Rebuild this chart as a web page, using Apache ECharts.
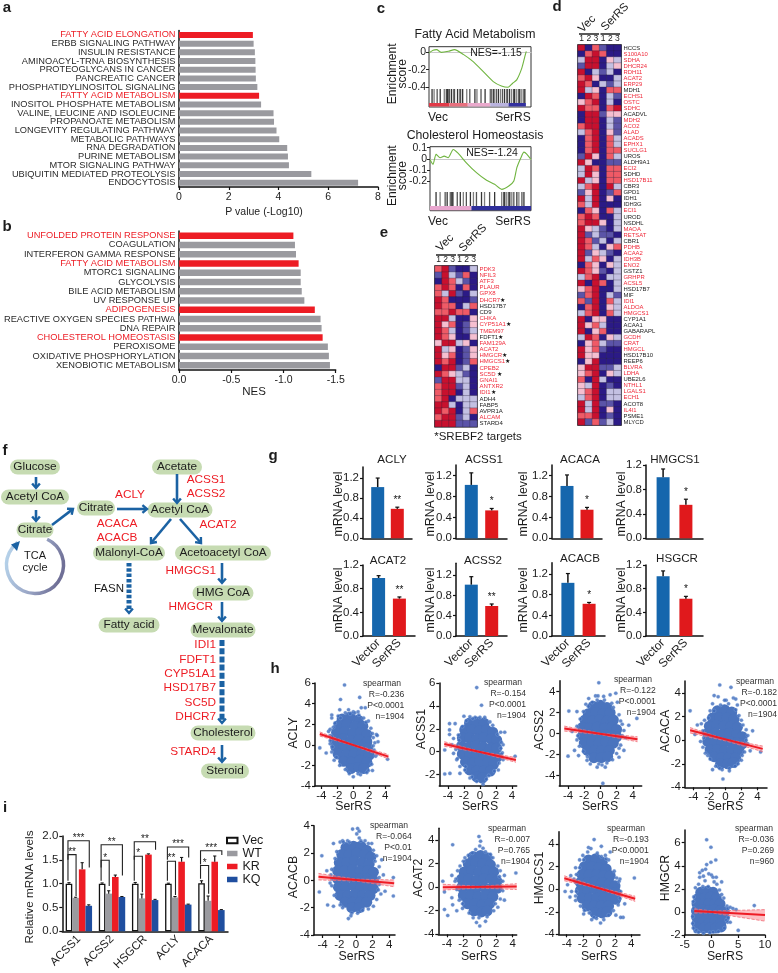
<!DOCTYPE html>
<html><head><meta charset="utf-8">
<script src="https://cdn.jsdelivr.net/npm/echarts@6/dist/echarts.min.js"></script>
<style>html,body{margin:0;padding:0;background:#fff}#c{width:778px;height:973px}</style>
</head><body><div id="c"></div>
<script>
// ---------- panel a ----------
const aCats=['FATTY ACID ELONGATION','ERBB SIGNALING PATHWAY','INSULIN RESISTANCE','AMINOACYL-TRNA BIOSYNTHESIS','PROTEOGLYCANS IN CANCER','PANCREATIC CANCER','PHOSPHATIDYLINOSITOL SIGNALING','FATTY ACID METABOLISM','INOSITOL PHOSPHATE METABOLISM','VALINE, LEUCINE AND ISOLEUCINE','PROPANOATE METABOLISM','LONGEVITY REGULATING PATHWAY','METABOLIC PATHWAYS','RNA DEGRADATION','PURINE METABOLISM','MTOR SIGNALING PATHWAY','UBIQUITIN MEDIATED PROTEOLYSIS','ENDOCYTOSIS'];
const aVals=[2.97,3.0,3.05,3.07,3.08,3.09,3.15,3.22,3.3,3.8,3.82,3.92,4.03,4.35,4.38,4.42,5.32,7.2];
const aRed=['FATTY ACID ELONGATION','FATTY ACID METABOLISM'];
// ---------- panel b ----------
const bCats=['UNFOLDED PROTEIN RESPONSE','COAGULATION','INTERFERON GAMMA RESPONSE','FATTY ACID METABOLISM','MTORC1 SIGNALING','GLYCOLYSIS','BILE ACID METABOLISM','UV RESPONSE UP','ADIPOGENESIS','REACTIVE OXYGEN SPECIES PATHWA','DNA REPAIR','CHOLESTEROL HOMEOSTASIS','PEROXISOME','OXIDATIVE PHOSPHORYLATION','XENOBIOTIC METABOLISM'];
const bVals=[-1.095,-1.11,-1.12,-1.145,-1.165,-1.165,-1.175,-1.2,-1.30,-1.355,-1.365,-1.375,-1.425,-1.435,-1.445];
const bRed=['UNFOLDED PROTEIN RESPONSE','FATTY ACID METABOLISM','ADIPOGENESIS','CHOLESTEROL HOMEOSTASIS'];
// ---------- panel c ----------
const c1Rank=[0,4,7.5,12,19,25,34,43,53,63,71,77.5,82,86,91,94,95.4];
const c1Score=[-0.01,0.02,0.027,-0.004,0.008,0.027,-0.03,-0.107,-0.22,-0.335,-0.385,-0.40,-0.354,-0.316,-0.183,-0.05,0.008];
const c1Rug=[3,5,8,11,15,17,18,19,20,22,24,25,28,30,31,33,37,40,45,47,51,55,60,61,63,64,66,68,70,72,74,76,77,79,81,83,84,86,88,89,91,93,94];
const c1Band=[[0,20,'#e23a48'],[20,38,'#e8707e'],[38,60,'#eaa9cc'],[60,78,'#b9b3de'],[78,95,'#34319f']];
const c2Rank=[0,3,6,10,14,18,23,28,36,46,56,64,71,78,83,86,90,93,96,100];
const c2Score=[-0.006,-0.05,0.04,0.01,0.024,0.01,0.084,0.048,-0.036,-0.125,-0.194,-0.23,-0.275,-0.245,-0.2,-0.08,0.01,0.06,0.04,-0.006];
const c2Rug=[6,10,15,17,20,21,22,23,27,30,33,36,40,43,46,51,54,59,64,71,73,74,76,78,79,81,83,86,88,91,93];
const c2Band=[[0,41,'#e9a6cf'],[41,100,'#2f2f9b']];
// ---------- panel d ----------
const dGenes=['HCCS','S100A10','SDHA','DHCR24','RDH11','ACAT2','ERP29','MDH1','ECHS1','OSTC','SDHC','ACADVL','MDH2','ACO2','ALAD','ACADS','EPHX1','SUCLG1','UROS','ALDH9A1','ECI2','SDHD','HSD17B11','CBR3','GPD1','IDH1','IDH3G','ECI1','UROD','NSDHL','MAOA','RETSAT','CBR1','PDHB','ACAA2','IDH3B','ENO2','GSTZ1','GRHPR','ACSL5','HSD17B7','MIF','IDI1','ALDOA','HMGCS1','CYP1A1','ACAA1','GABARAPL','GCDH','CRAT','HMGCL','HSD17B10','REEP6','BLVRA','LDHA','UBE2L6','NTHL1','LGALS1','ECH1','ACOT8','IL4I1','PSME1','MLYCD'];
const dBlack=['HCCS','MDH1','ACADVL','UROS','ALDH9A1','SDHD','CBR3','GPD1','IDH1','IDH3G','UROD','NSDHL','CBR1','GSTZ1','HSD17B7','MIF','CYP1A1','ACAA1','GABARAPL','HSD17B10','REEP6','UBE2L6','ACOT8','PSME1','MLYCD'];
const dValues=[[3,-3,2,-2,-3,-3],[-3,2,3,2,-3,-3],[-1,3,3,-3,1,-1],[-2,3,3,-3,-1,1],[3,-3,-1,-2,-1,-3],[2,3,1,-3,-3,-1],[3,2,-3,-1,-2,-1],[3,-1,1,-3,2,2],[-3,3,2,-3,-1,-2],[1,2,3,-3,-1,-3],[3,2,2,-3,2,3],[-3,3,3,-2,1,1],[-3,3,3,-3,-1,-2],[2,3,3,-3,-1,-2],[-1,2,3,-3,1,-2],[-3,2,3,-3,2,-1],[-3,2,3,-3,2,-1],[-3,2,3,-3,2,2],[-2,3,1,-3,2,-1],[3,1,-3,-3,-2,-2],[-1,3,2,-3,2,2],[-1,3,1,-3,2,2],[3,-1,1,-3,2,2],[-1,2,3,-3,3,-1],[-2,1,3,-3,-2,2],[3,-1,3,-3,1,-3],[2,-1,3,-3,-3,-3],[-3,2,1,-3,2,-1],[2,3,2,-3,-3,-1],[2,3,3,1,-3,-1],[3,1,-1,-2,-3,-1],[3,-2,-1,-2,-2,-3],[3,2,-2,-1,-3,-1],[3,2,-1,-3,1,2],[3,-2,1,-1,-2,-3],[3,-1,2,1,-3,-1],[-3,2,1,-3,1,-1],[3,2,1,-2,-3,-1],[-1,2,3,-3,-1,-1],[3,-3,3,2,-3,-1],[1,2,3,-3,-3,-1],[-2,2,3,-3,-1,-2],[2,-2,3,-3,2,-1],[-3,2,3,-3,1,-1],[-1,2,3,-3,2,-1],[3,-3,1,1,-3,-3],[3,1,2,-1,-3,-3],[3,-3,1,2,-3,-3],[-1,3,2,-3,1,-1],[-3,1,2,-1,-2,-2],[3,1,2,-2,-3,-3],[3,1,1,-3,-3,-3],[-3,1,3,-3,-3,-3],[1,3,3,-2,-2,-1],[1,2,3,-3,1,-1],[2,-3,3,-1,-3,-3],[1,-1,3,-3,-2,-3],[1,2,3,-3,-1,-1],[-1,2,3,-3,-1,-1],[3,-1,3,-2,-2,-3],[3,-1,3,-3,1,-3],[2,2,3,-3,-2,-3],[3,-2,2,-2,-1,-3]];
// ---------- panel e ----------
const eGenes=['PDK3','NFIL3','ATF3','PLAUR','GPX8','DHCR7★','HSD17B7','CD9','CHKA','CYP51A1★','TMEM97','FDFT1★','FAM129A','ACAT2','HMGCR★','HMGCS1★','CPEB2','SC5D ★','GNAI1','ANTXR2','IDI1★','ADH4','FABP5','AVPR1A','ALCAM','STARD4'];
const eBlack=['HSD17B7','CD9','FDFT1★','ADH4','FABP5','AVPR1A','STARD4'];
const eValues=[[2,3,-2,-3,-3,-1],[-2,3,-1,-2,2,-3],[-3,3,2,-1,-2,-3],[2,3,2,-3,2,-3],[2,-1,3,-2,-3,-1],[3,2,-3,-3,-3,-2],[3,2,2,-3,-1,2],[2,2,3,2,2,-3],[3,3,-1,-3,-3,1],[3,1,2,-3,-2,1],[3,2,-1,-3,-2,-1],[3,2,1,-3,-3,1],[1,3,3,-1,1,-3],[3,-1,1,-3,-2,1],[3,1,2,-3,-2,1],[3,2,3,-3,-2,2],[-3,3,3,-2,-1,-3],[3,2,1,-1,-2,-3],[-2,3,3,-1,-1,-3],[2,3,3,-2,-1,-3],[2,3,3,-3,-1,-3],[2,3,-3,-1,-1,-1],[3,3,-1,-3,-1,-1],[3,2,3,-3,-1,2],[2,3,3,-2,-1,-3],[3,3,3,-2,-2,-2]];
const heatColumns=['1','2','3','1','2','3'];
// ---------- panel g ----------
const gNames=['ACLY','ACSS1','ACACA','HMGCS1','ACAT2','ACSS2','ACACB','HSGCR'];
const gVector=[1.02,1.02,1.0,1.0,.98,1.01,1.03,1.01];
const gVectorTop=[1.2,1.25,1.21,1.135,1.02,1.167,1.21,1.10];
const gSerRS=[.587,.533,.546,.548,.632,.59,.624,.63];
const gSerRSTop=[.62,.57,.59,.64,.66,.63,.65,.67];
const gStars=['**','*','*','*','**','**','*','*'];
const gTicks=[0,.4,.8,1.2];
const gCats=['','Vector','','SerRS',''];
// ---------- panel h ----------
const hGenes=['ACLY','ACSS1','ACSS2','ACACA','ACACB','ACAT2','HMGCS1','HMGCR'];
const hR=['R=-0.236','R=-0.154','R=-0.122','R=-0.182','R=-0.064','R=-0.007','R=-0.193','R=-0.036'];
const hP=['P<0.0001','P<0.0001','P<0.0001','P<0.0001','P<0.01','P=0.765','P<0.0001','P=0.269'];
const hN=['n=1904','n=1904','n=1904','n=1904','n=1904','n=1904','n=1904','n=960'];
const coreACLY=[[-1.4,2.5],[-.4,2.7],[.6,2.4],[-1.8,1.9],[-.8,2],[.2,1.8],[1.2,1.8],[-2.1,1.2],[-1.1,1.3],[-.1,1.1],[.9,1.2],[1.7,1],[-2.3,.5],[-1.3,.6],[-.3,.4],[.7,.5],[1.7,.3],[-2.2,-.2],[-1.2,-.1],[-.2,-.3],[.8,-.2],[1.8,-.3],[-1.9,-.9],[-.9,-1],[.1,-.9],[1.1,-.8],[2,-1],[-1.2,-1.6],[-.2,-1.7],[.8,-1.5],[1.7,-1.7],[-.3,-2.3],[.7,-2.2],[1.3,-2.3]];
const dotsACLY=[[-1.1,5.8],[.8,4.6],[-1.6,4.4],[-2.7,2.9],[-2.7,2.6],[-1.7,3.4],[-.6,3.4],[0,3.2],[.6,3.2],[1,3.6],[1.5,3.6],[-4.2,-.3],[-3.4,-.8],[-3.1,1.3],[-2.9,1.5],[-2.9,.9],[-2.9,.4],[-2.5,1.7],[-2.9,.1],[-2.7,-.7],[-2.4,-1.5],[-1.9,2.8],[-1,3.1],[.2,3.1],[1.3,2.6],[1.9,2.3],[2.2,1.6],[2.5,.7],[2.7,.2],[2.9,1],[3,.9],[3.1,.3],[2.6,-.5],[2.8,-1.1],[2.3,-1.9],[3,-.9],[4.3,-1.4],[2.4,-2.5],[1.9,-2.5],[1.7,-2.7],[.6,-2.8],[0,-3.1],[-.5,-2.8],[-1,-2.4],[.9,-2.9],[-1.7,-2],[-2.1,-1.2],[-2.6,-.2],[-2.7,.8],[2.5,-.1],[2.4,1.1],[1.6,2.2],[.7,2.9],[-.4,3],[-1.6,2.6],[-2.3,2.1]];
const fitACLY=[[-4.2,1.05],[4.4,-1.15]];
const ciACLY=[[-4.2,.85,1.25],[0,-.08,.04],[4.4,-1.37,-.93]];
const coreACSS1=[[-1.3,2.5],[-.4,2.6],[.5,2.5],[-1.9,1.9],[-1,1.9],[-.1,1.8],[.8,1.9],[1.6,1.7],[-2.2,1.2],[-1.3,1.2],[-.4,1.1],[.5,1.2],[1.4,1.1],[2.1,1],[-2.3,.5],[-1.4,.4],[-.5,.5],[.4,.4],[1.3,.3],[2.1,.3],[-2.2,-.2],[-1.3,-.2],[-.4,-.3],[.5,-.3],[1.4,-.4],[2.1,-.5],[-1.8,-.9],[-.9,-1],[0,-.9],[.9,-1],[1.7,-1.1],[-1.3,-1.6],[-.4,-1.7],[.5,-1.7],[1.3,-1.7],[-.4,-2.2],[.3,-2.3]];
const dotsACSS1=[[-.4,5.6],[.2,4.05],[-3.8,2.45],[-3.1,2.45],[-2,3.1],[-1.25,3.05],[-.6,3],[.6,3],[1.25,2.6],[3.1,1.7],[2.6,1.7],[-3.8,1.9],[-3.8,1.5],[-2.7,1.45],[-3.3,1.15],[-4.4,.15],[-3.5,.6],[-3,.2],[-4.4,-1.95],[-3.75,-1.9],[-2.5,-1.9],[-2.5,-1.3],[-2.9,-.7],[-3.3,-.15],[4.4,-.4],[2.9,.6],[2.8,-.1],[2.9,-.7],[2.3,-1.6],[.8,-2.4],[.4,-2.85],[-.4,-2.6],[-1.25,-2.3],[-1.9,-1.6],[1.8,-1.7],[2.4,-1],[2.7,-.2],[2.7,.8],[-2.2,2.2],[-2.8,.5],[-2.8,-.6],[2.2,1.5],[-1.7,2.7],[-.9,2.9],[0,3],[1.6,2.3],[-2.6,1],[2.6,.3],[1.1,-2.1],[-1,-2.2],[-1.8,-1.3]];
const fitACSS1=[[-4.45,.67],[4.5,-.72]];
const ciACSS1=[[-4.45,.47,.87],[0,-.09,.03],[4.5,-.93,-.52]];
const coreACSS2=[[-.9,2.6],[0,2.7],[.8,2.5],[-1.5,1.9],[-.6,2],[.3,1.9],[1.2,2],[-1.9,1.3],[-1,1.2],[-.1,1.3],[.8,1.2],[1.6,1.3],[-2.2,.6],[-1.3,.5],[-.4,.6],[.5,.5],[1.4,.6],[2,.4],[-2.2,-.2],[-1.3,-.1],[-.4,-.2],[.5,-.1],[1.4,-.2],[2,-.3],[-2,-.9],[-1.1,-.8],[-.2,-.9],[.7,-.8],[1.6,-.9],[-1.6,-1.6],[-.7,-1.6],[.2,-1.6],[1.1,-1.6],[-.8,-2.3],[.1,-2.3],[.9,-2.2]];
const dotsACSS2=[[-.2,4.85],[.3,-4.75],[-3.9,2.15],[-2.9,2.1],[-4,-2.15],[-3.2,-1.6],[-2.7,-2.1],[-1.65,-2.55],[-1.25,-2.9],[-.4,-3.2],[.6,-3.2],[-.2,-2.9],[.8,-2.8],[2.3,-2.25],[2.9,-1.6],[2.5,-1.1],[3.5,.8],[4.5,1.45],[1.9,3.85],[1.2,3.7],[.4,3.55],[-.6,3.6],[-1.45,3.35],[-.3,3.6],[1.4,2.9],[2.1,3],[-1.8,2.8],[-2.5,1.4],[-2.9,.7],[-2.8,-.2],[-3.5,.2],[-2.9,-.6],[-2.6,-1.2],[2.3,1.8],[2.7,.9],[2.7,-.2],[2.9,.3],[3.1,-.4],[2,-1.9],[1.5,-2.5],[.2,-3],[-1,3],[.5,3.2],[-.4,3.2],[1.6,2.5],[-1.5,2.6],[-2.1,2.1],[-2.1,-1.7],[-1.6,-2.2],[2.5,1.2],[2.3,-1.4]];
const fitACSS2=[[-4.46,.48],[4.58,-.54]];
const ciACSS2=[[-4.46,.24,.72],[0,-.1,.04],[4.58,-.78,-.3]];
const coreACACA=[[-1,2.5],[-.1,2.6],[.8,2.4],[-1.6,1.9],[-.7,1.9],[.2,1.9],[1.1,1.8],[-2,1.2],[-1.1,1.3],[-.2,1.2],[.7,1.2],[1.5,1.1],[-2.2,.6],[-1.3,.6],[-.4,.5],[.5,.6],[1.4,.5],[2.1,.3],[-2.2,-.1],[-1.3,-.1],[-.4,-.2],[.5,-.1],[1.4,-.2],[2.1,-.3],[-1.9,-.8],[-1,-.8],[-.1,-.9],[.8,-.8],[1.7,-.9],[-1.4,-1.4],[-.5,-1.5],[.4,-1.5],[1.3,-1.5],[-.6,-2],[.3,-2],[1,-1.9]];
const dotsACACA=[[-.7,4.7],[.7,4.5],[-4.4,2.5],[-1.4,3.8],[-.9,3.7],[.1,3.4],[-.1,3.4],[1,3.6],[1.3,3.5],[1.5,3],[-1.6,3.1],[-1.9,2.5],[-.6,3],[.4,3.1],[1.3,2.6],[-3.5,1.3],[-3,1.4],[-2.6,1.7],[-2.8,.8],[-3.8,.5],[-3.1,-.1],[-2.8,-.6],[-2.5,-1.1],[-1.9,-1.6],[3.4,.8],[2.8,.4],[2.6,.9],[2.2,1.3],[2.8,-.3],[3.1,-.9],[2.4,-1],[4.4,-1],[2,-1.7],[1.6,-2],[1.2,-2.2],[.5,-2.4],[.5,-2.6],[-.7,-2.4],[-1.2,-2.2],[-1.6,-2.5],[-.4,-2.5],[-.3,-3.3],[-2.1,1.9],[-1.4,2.5],[1.7,2.1],[2,1.7],[-2.7,.2],[2.6,0],[-2.2,-1.3],[2.1,-1.3]];
const fitACACA=[[-4.4,.85],[4.66,-.73]];
const ciACACA=[[-4.4,.62,1.08],[0,-.05,.1],[4.66,-.97,-.49]];
const coreACACB=[[-1.2,2.4],[-.3,2.5],[.6,2.5],[1.3,2.2],[-1.7,1.9],[-.8,1.9],[.1,2],[1,1.9],[1.8,1.7],[-2,1.3],[-1.1,1.3],[-.2,1.4],[.7,1.3],[1.6,1.2],[-2.2,.7],[-1.3,.7],[-.4,.8],[.5,.7],[1.4,.7],[2.1,.6],[-2.2,.1],[-1.3,.1],[-.4,.2],[.5,.1],[1.4,.1],[2.1,0],[-2.1,-.5],[-1.2,-.5],[-.3,-.4],[.6,-.5],[1.5,-.5],[2.1,-.6],[-1.9,-1.1],[-1,-1.1],[-.1,-1],[.8,-1.1],[1.7,-1.1],[-1.3,-1.6],[-.4,-1.6],[.5,-1.6],[1.3,-1.6],[-.5,-2],[.4,-2]];
const dotsACACB=[[-.4,3.75],[.2,3.8],[.4,3.6],[.1,3.4],[.4,3.1],[-4.1,1.8],[-2.7,2.7],[-1.9,2.8],[-1.6,2.9],[-1.5,2.8],[-1,2.9],[1.1,2.9],[1.9,2.7],[1.5,2.7],[2.1,2.2],[2.5,1.8],[3.1,1.5],[4.5,.2],[2.8,1],[2.8,.2],[3.3,.4],[-2.5,1.6],[-2.9,.8],[-2.9,.1],[-3.5,.7],[-3,.4],[-3.1,-.2],[-2.9,-.4],[-4.4,-.85],[-3.4,-1.8],[-2.7,-1.9],[-2.6,-1.1],[-1.9,-1.8],[2.7,-.7],[2.8,-.3],[3.5,-.8],[3,-1],[4.5,-1.15],[2.1,-1.9],[1.5,-2.1],[-.5,-2.4],[.2,-2.4],[-.6,-2.6],[-.9,-2.8],[.8,-2.2],[-2.3,2.1],[2.3,1.4],[-1.6,-2],[-.8,2.8],[.6,2.9],[2.5,-1.4]];
const fitACACB=[[-4.5,.27],[4.6,-.22]];
const ciACACB=[[-4.5,.03,.51],[0,-.05,.09],[4.6,-.47,.03]];
const coreACAT2=[[-.8,2.6],[.1,2.7],[.9,2.5],[-1.4,2],[-.5,2.1],[.4,2],[1.3,1.9],[-1.9,1.3],[-1,1.4],[-.1,1.3],[.8,1.4],[1.7,1.3],[-2.2,.7],[-1.3,.7],[-.4,.6],[.5,.7],[1.4,.7],[2.1,.5],[-2.2,0],[-1.3,0],[-.4,-.1],[.5,0],[1.4,-.1],[2.1,-.1],[-2,-.7],[-1.1,-.7],[-.2,-.8],[.7,-.7],[1.6,-.8],[-1.5,-1.4],[-.6,-1.4],[.3,-1.5],[1.2,-1.4],[-.7,-2],[.2,-2.1],[.9,-2]];
const dotsACAT2=[[-.1,4.3],[-3.3,3.6],[.1,3.9],[-.5,3.2],[0,3.5],[.4,3.3],[.7,3],[-.9,2.9],[1.3,2.8],[1.6,2.5],[-1.4,2.7],[-2,2.2],[2.2,1.8],[2.5,1.4],[-4.5,.5],[-2.7,1.4],[-2.9,.7],[-3.4,1],[-3,.5],[-2.8,-.2],[-4.3,-.4],[-3.4,-.9],[-4.3,-1.9],[-3.9,-2.4],[-3.3,-1.5],[-2.8,-2],[-2.5,-1.1],[-2.1,-1.8],[4.4,1.2],[3,1],[2.8,.5],[2.8,-.3],[2.5,-1],[3,-1.1],[2.2,-1.7],[1.7,-2],[.9,-2.5],[.7,-2.9],[-.1,-2.6],[-.4,-3],[0,-3.3],[-.8,-2.6],[-1.3,-2.2],[-2.4,1.8],[2.4,.9],[-2.1,-1.4],[1.9,-1.4],[-1.8,2.5]];
const fitACAT2=[[-4.5,0],[4.5,.05]];
const ciACAT2=[[-4.5,-.25,.25],[0,-.07,.07],[4.5,-.2,.3]];
const coreHMGCS1=[[-1.3,2.6],[-.4,2.7],[.4,2.4],[-1.8,2],[-.9,2],[0,1.9],[.9,1.8],[-2.1,1.3],[-1.2,1.3],[-.3,1.3],[.6,1.2],[1.4,1.2],[-2.3,.6],[-1.4,.6],[-.5,.7],[.4,.6],[1.3,.5],[2,.3],[-2.3,-.1],[-1.4,-.1],[-.5,0],[.4,-.1],[1.3,-.2],[2.1,-.3],[-2.1,-.8],[-1.2,-.8],[-.3,-.8],[.6,-.8],[1.5,-.8],[2.1,-.9],[-1.5,-1.5],[-.6,-1.5],[.3,-1.5],[1.2,-1.5],[-.5,-2.1],[.4,-2.1],[1,-2]];
const dotsHMGCS1=[[-.6,4.4],[-1.3,3.7],[-1,3.6],[-1.4,3.3],[.3,3.8],[-.2,3.2],[.8,3],[1.4,3.3],[1.2,2.6],[.9,2.7],[-2,3],[-1.9,2.6],[-2.4,2.6],[-2.9,1.9],[-3.5,1.2],[-3.1,.9],[-2.8,1.3],[-2.9,.6],[-3.9,.4],[-3.4,-.2],[-4.2,-.2],[-3.6,-.7],[-2.9,-.6],[-2.8,-.2],[-2.9,-1],[-2.3,-1.5],[-1.8,-1.9],[-1.9,-2.2],[4.4,1],[2.6,.9],[2.5,.7],[2.7,-.2],[2.6,-.8],[3.2,-1.3],[2.4,-1.4],[1.8,-1.9],[2.1,-2.3],[3,-2.5],[2.7,-2.5],[1.2,-2.3],[-.6,-2.5],[-.9,-2.7],[.2,-3],[-.3,-2.6],[.6,-2.7],[-2.4,1.9],[1.9,1.6],[2.2,1],[-1.2,-2.1],[.3,2.9]];
const fitHMGCS1=[[-4.3,.97],[4.5,-.85]];
const ciHMGCS1=[[-4.3,.75,1.19],[0,.03,.17],[4.5,-1.08,-.62]];
const coreHMGCR=[[-2,1.7],[-.8,1.8],[.3,1.7],[-2.4,1.2],[-1.3,1.2],[-.2,1.3],[.9,1.2],[-2.7,.7],[-1.6,.7],[-.5,.7],[.6,.7],[1.6,.7],[-2.8,.1],[-1.7,.2],[-.6,.1],[.5,.2],[1.6,.1],[2.4,0],[-2.8,-.4],[-1.7,-.4],[-.6,-.4],[.5,-.4],[1.6,-.5],[2.4,-.5],[-2.7,-1],[-1.6,-.9],[-.5,-1],[.6,-.9],[1.7,-1],[-2.5,-1.4],[-1.4,-1.4],[-.3,-1.4],[.8,-1.4],[1.8,-1.3]];
const dotsHMGCR=[[-.9,6.25],[-.1,5.6],[-.9,4.1],[.8,4.5],[-.1,4.3],[-2.2,3.4],[-2.2,3],[-1.7,3.6],[-1.5,3.1],[-1.1,3.7],[-1.2,2.7],[-.5,3.3],[0,3.2],[.3,3],[.9,3],[.5,2.6],[1,2.4],[1.9,2.6],[-3,2.1],[-2.4,2.4],[-3.3,1.3],[-3.4,.9],[-3.5,-.4],[-3.5,-1],[-3.4,-1.4],[-3,-1.7],[-2.8,-1.6],[-2.4,-1.75],[-1.5,-1.85],[-.3,-1.8],[.3,-1.75],[1.3,-1.7],[2.4,-1.4],[2.8,-.7],[3.1,-.5],[3,-.9],[3.5,-.9],[2.9,.5],[3.1,.3],[3.5,.4],[4,.3],[4.6,.2],[8,.55],[5,-1.6],[2.3,1.2],[1.9,1.5],[-1.6,2.2],[-.6,2.2],[1.5,1.9],[-3.3,.3]];
const fitHMGCR=[[-3.2,.09],[10,-.26]];
const ciHMGCR=[[-3.2,-.1,.28],[0,-.08,.08],[10,-.8,.2]];
// ---------- panel i ----------
const iCats=['ACSS1','ACSS2','HSGCR','ACLY','ACACA'];
const iVec=[1.0,1.0,1.0,1.0,1.01];
const iWT=[.70,.79,.69,.71,.64];
const iKR=[1.30,1.14,1.61,1.46,1.46];
const iKQ=[.535,.72,.655,.56,.445];
const iVecErr=[.02,.015,.025,.01,.05];
const iWTErr=[.015,.06,.09,.02,.1];
const iKRErr=[.14,.04,.015,.09,.12];
const iKQErr=[.02,.01,.015,.01,.01];
// category, barA, barB, top, bottom of leg A, bottom of leg B
const iBrackets=[[0,0,1,1.61,1.06,.74],[0,0,3,1.90,1.5,1.34],[1,0,1,1.49,1.06,.95],[1,0,3,1.815,1.34,1.17],[2,0,1,1.575,1.06,.82],[2,0,3,1.88,1.5,1.71],[3,0,1,1.47,1.06,.76],[3,0,3,1.77,1.5,1.55],[4,0,1,1.38,1.1,.79],[4,0,3,1.69,1.4,1.6]];
const iBracketStars=['**','***','*','**','*','**','**','***','*','***'];

const FONT='"Liberation Sans", Arial, sans-serif';
const INK='#1c1c1c', RED='#ed1c24', GREY='#9a9a9f', BLUE='#1566ad', ARROW='#1b62a3', NODE='#c6dbb2';
const grids=[],xAxes=[],yAxes=[],series=[],graphic=[];
function addGrid(x0,y0,x1,y1,xa,ya,extra){const i=grids.length;grids.push(Object.assign({left:x0,top:y0,width:x1-x0,height:y1-y0,containLabel:false},extra||{}));xa.gridIndex=i;ya.gridIndex=i;xAxes.push(xa);yAxes.push(ya);return i;}
function T(x,y,text,o){o=o||{};graphic.push({type:'text',x,y,rotation:(o.rot||0)*Math.PI/180,z:50,style:{text,font:(o.bold?'bold ':'')+(o.size||12)+'px '+FONT,fill:o.color||INK,align:o.align||'center',verticalAlign:'middle'}});}
const HIDE={show:false};
function axisBase(o){return Object.assign({axisLine:{show:true,onZero:false,lineStyle:{color:'#111',width:1.5}},axisTick:{show:true,length:3,lineStyle:{color:'#111',width:1.2}},splitLine:HIDE,axisLabel:{color:INK,fontFamily:FONT,fontSize:11}},o);}

[['a',7,8],['b',7,227],['c',381,9],['d',557,7],['e',384,233],['f',5,451],['g',273,456],['h',275,669],['i',5,808]].forEach(p=>T(p[1],p[2],p[0],{bold:true,size:15}));

// ---------- a, b ----------
function rankedBars(cats,vals,reds,box,xa,bw,fs){
 const g=addGrid(box[0],box[1],box[2],box[3],xa,axisBase({type:'category',inverse:true,data:cats,axisTick:HIDE,axisLabel:{interval:0,fontFamily:FONT,fontSize:fs,margin:3.5,color:(v)=>reds.includes(v)?RED:'#2a2a2a'}}));
 series.push({type:'bar',xAxisIndex:g,yAxisIndex:g,barWidth:bw,silent:true,data:vals,itemStyle:{color:(p)=>reds.includes(cats[p.dataIndex])?RED:GREY}});
}
rankedBars(aCats,aVals,aRed,[179,30.6,378,187],axisBase({type:'value',min:0,max:8,interval:2,axisLabel:{color:INK,fontFamily:FONT,fontSize:10.5,margin:5}}),6,9.25);
T(264,212,'P value (-Log10)',{size:10.5});
rankedBars(bCats,bVals,bRed,[179,231,335.7,370],axisBase({type:'value',inverse:true,min:-1.5,max:0,interval:.5,axisLabel:{color:INK,fontFamily:FONT,fontSize:10.5,margin:5,formatter:v=>v.toFixed(1)}}),6.5,9.25);
T(254,392,'NES',{size:11.5});

// ---------- c ----------
const rectS=(g,rows)=>({type:'custom',xAxisIndex:g,yAxisIndex:g,silent:true,data:rows.map(r=>[r[0],r[1]]),encode:{x:[0,1],y:[]},
 renderItem(p,api){const a=api.coord([rows[p.dataIndex][0],0]),b=api.coord([rows[p.dataIndex][1],1]);return{type:'rect',shape:{x:a[0],y:b[1],width:b[0]-a[0],height:a[1]-b[1]},style:{fill:rows[p.dataIndex][2]}};}});
function gsea(fr,split,band,yLo,yHi,yTop,yBot,rank,score,rug,title,titleY,nes,nesX,yInterval){
 const hid={type:'value',show:false,min:0,max:100,splitLine:HIDE};
 addGrid(fr[0],fr[1],fr[2],fr[3],Object.assign({},hid),{type:'value',show:false,min:0,max:1,splitLine:HIDE},{show:true,borderColor:'#333',borderWidth:1,backgroundColor:'#fff'});
 const gB=addGrid(fr[0],split[1],fr[2],fr[3]-.5,Object.assign({},hid),{type:'value',show:false,min:0,max:1,splitLine:HIDE});
 series.push(rectS(gB,band));
 const gR=addGrid(fr[0],split[0],fr[2],split[1],Object.assign({},hid),{type:'value',show:false,min:0,max:1,splitLine:HIDE});
 series.push({type:'custom',xAxisIndex:gR,yAxisIndex:gR,silent:true,data:rug.map(v=>[v]),encode:{x:0,y:[]},renderItem(p,api){const a=api.coord([api.value(0),0]),b=api.coord([api.value(0),1]);return{type:'line',shape:{x1:a[0],y1:a[1],x2:b[0],y2:b[1]},style:{stroke:'#2a2a2a',lineWidth:1.3,opacity:[.95,.6,.8][p.dataIndex%3]}};}});
 const gC=addGrid(fr[0],yTop,fr[2],yBot,{type:'value',min:0,max:100,axisLabel:HIDE,axisTick:HIDE,splitLine:HIDE,axisLine:{show:true,onZero:true,lineStyle:{color:'#c9c9c9',width:1}}},
  axisBase({type:'value',min:yLo,max:yHi,interval:yInterval,axisLine:HIDE,axisTick:{show:true,length:3,lineStyle:{color:'#222'}},axisLabel:{color:INK,fontFamily:FONT,fontSize:10.5,margin:3}}));
 series.push({type:'line',xAxisIndex:gC,yAxisIndex:gC,clip:false,symbol:'none',silent:true,data:rank.map((r,i)=>[r,score[i]]),smooth:.2,lineStyle:{color:'#6fb43f',width:1.1}});
 T(475,titleY,title,{size:12.3});
 T(nesX,fr[1]+6.5,nes,{size:10.5});
 T(393,(fr[1]+fr[3])/2-3,'Enrichment',{rot:90,size:12});T(403,(fr[1]+fr[3])/2-3,'score',{rot:90,size:12});
 T(438,fr[3]+11,'Vec',{size:12});T(513,fr[3]+11,'SerRS',{size:12});
}
gsea([429,46.7,531,107],[89,103],c1Band,-.4,0,52,87.3,c1Rank,c1Score,c1Rug,'Fatty Acid Metabolism',35,'NES=-1.15',496,.2);
gsea([430,146.7,531,210.7],[192,206],c2Band,-.2,.1,147.7,181,c2Rank,c2Score,c2Rug,'Cholesterol Homeostasis',136,'NES=-1.24',492,.1);

// ---------- d, e heatmaps ----------
const heatIdx=[];
function heat(genes,blacks,vals,box,fs,lab){
 const g=addGrid(box[0],box[1],box[2],box[3],{type:'category',position:'top',data:heatColumns,axisLine:HIDE,axisTick:HIDE,splitLine:HIDE,axisLabel:{interval:0,margin:1.5,fontFamily:FONT,fontSize:8.5,color:INK}},
  {type:'category',position:'right',inverse:true,data:genes,axisLine:HIDE,axisTick:HIDE,splitLine:HIDE,axisLabel:{interval:0,margin:2.5,fontFamily:FONT,align:'left',hideOverlap:false,formatter:v=>{const s=v.includes('★');const n=v.replace('★','');return (blacks.includes(v)?'{k|':'{r|')+n+'}'+(s?'{s|★}':'');},rich:{k:{color:'#222',fontFamily:FONT,fontSize:fs},r:{color:'#f0293a',fontFamily:FONT,fontSize:fs},s:{color:'#111',fontSize:fs}}}},
  {show:true,borderColor:'#111',borderWidth:1.5});
 heatIdx.push(series.length);
 const d=[];vals.forEach((row,r)=>row.forEach((v,c)=>d.push([c,r,v])));
 series.push({type:'heatmap',xAxisIndex:g,yAxisIndex:g,data:d,silent:true,itemStyle:{borderColor:'#2b2440',borderWidth:.3}});
 T(lab[0],lab[1],'Vec',{rot:45,size:11.5});T(lab[2],lab[3],'SerRS',{rot:45,size:11.5});
 graphic.push({type:'line',shape:{x1:box[0]+1,y1:lab[4],x2:box[0]+21,y2:lab[4]},style:{stroke:'#222',lineWidth:1.5}});
 graphic.push({type:'line',shape:{x1:box[0]+22.5,y1:lab[4],x2:box[2]-1,y2:lab[4]},style:{stroke:'#222',lineWidth:1.5}});
}
heat(dGenes,dBlack,dValues,[578,45,621,425],5.9,[587,24,615,17,34]);
heat(eGenes,eBlack,eValues,[435,266,477,426.7],6,[445,243,473,238,255]);
T(478,437,'*SREBF2 targets',{size:11.5});

// ---------- f pathway ----------
function node(cx,cy,w,text,h){h=h||15;graphic.push({type:'rect',z:40,shape:{x:cx-w/2,y:cy-h/2,width:w,height:h,r:h/2},style:{fill:NODE}});T(cx,cy,text,{size:11.8});}
function arrow(x1,y1,x2,y2,dash,lw){lw=lw||2.6;const ang=Math.atan2(y2-y1,x2-x1),h=6;const p=(a)=>[x2-h*Math.cos(ang+a),y2-h*Math.sin(ang+a)];
 graphic.push({type:'line',z:41,shape:{x1,y1,x2:x2-(dash?3:1)*Math.cos(ang),y2:y2-(dash?3:1)*Math.sin(ang)},style:{stroke:ARROW,lineWidth:lw,lineDash:dash||null}});
 graphic.push({type:'polyline',z:41,shape:{points:[p(.7),[x2,y2],p(-.7)]},style:{stroke:ARROW,lineWidth:2.4,fill:null}});}
[[35,467,50,'Glucose'],[35,497,68,'Acetyl CoA'],[35,530,37,'Citrate'],[96,508,38,'Citrate'],[177,467,50,'Acetate'],[180,510,65,'Acetyl CoA'],[129,553,72,'Malonyl-CoA'],[223,553,96,'Acetoacetyl CoA'],[129,625,61,'Fatty acid'],[223,593,61,'HMG CoA'],[223,630,65,'Mevalonate'],[223,733,65,'Cholesterol'],[225,771,48,'Steroid']].forEach(n=>node(n[0],n[1],n[2],n[3]));
[[36,477,36,488],[36,510,36,521],[52,525,73,509],[117,509,147,509],[177,474,177,503],[171,519,151,543],[180,519,201,543],[222,563,222,583],[222,602,222,621],[222,745,222,762]].forEach(a=>arrow(a[0],a[1],a[2],a[3]));
arrow(129,563,129,613,[3.5,1.8],5);arrow(222,640,222,723,[6,2.2],5);
[['ACLY',130,495,'center'],['ACSS1',206,480,'center'],['ACSS2',206,494,'center'],['ACACA',117,524,'center'],['ACACB',117,538,'center'],['ACAT2',218,525,'center'],['HMGCS1',216,571,'right'],['HMGCR',213,607,'right'],['IDI1',216,645,'right'],['FDFT1',216,660,'right'],['CYP51A1',216,674,'right'],['HSD17B7',216,688,'right'],['SC5D',216,703,'right'],['DHCR7',216,717,'right'],['STARD4',216,752,'right']].forEach(t=>T(t[1],t[2],t[0],{size:11.8,color:RED,align:t[3]}));
T(124,589,'FASN',{size:11.5,align:'right'});
T(35,556,'TCA',{size:11});T(35,568,'cycle',{size:11});
graphic.push({type:'arc',z:30,shape:{cx:35,cy:565,r:28.5,startAngle:-Math.PI*0.36,endAngle:-Math.PI*0.71,clockwise:true},style:{fill:null,lineWidth:3.5,stroke:{type:'linear',x:0,y:0,x2:1,y2:.3,colorStops:[{offset:0,color:'#bcdcf2'},{offset:.6,color:'#9aa6c6'},{offset:1,color:'#6f6f96'}]}}});
graphic.push({type:'polygon',z:31,shape:{points:[[20,541],[11,544.5],[17,551]]},style:{fill:ARROW}});

// ---------- g ----------
const gX0=[363,456,552,646,363,456,552,646],gX1=[412,507,602,703,415,507,605,703],gYb=[538.3,538.3,538.3,538.3,636,636,636,636],gYt=[467,465,465,465,565,563.3,562.7,565],gMax=[1.42,1.4,1.4,1.2,1.2,1.43,1.42,1.2];
const gTx=[392,484,580,675,388,483,580,677],gTy=[460,460,460,460,561,561,559,559],gNx=[339,431,524,622,339,431,524,622];
gNames.forEach((name,i)=>{
 const second=i>=4;
 const g=addGrid(gX0[i],gYt[i],gX1[i],gYb[i],axisBase({type:'category',data:gCats,axisTick:HIDE,axisLabel:second?{show:true,interval:0,rotate:45,margin:5,fontFamily:FONT,fontSize:12,color:INK}:HIDE}),
  axisBase({type:'value',min:0,max:gMax[i],axisLabel:{customValues:gTicks,formatter:v=>v.toFixed(1),fontFamily:FONT,fontSize:11.5,color:INK,margin:4},axisTick:{show:true,length:3,customValues:gTicks,lineStyle:{color:'#111',width:1.2}}}));
 series.push({type:'bar',xAxisIndex:g,yAxisIndex:g,barWidth:13,silent:true,data:[null,{value:gVector[i],itemStyle:{color:BLUE}},null,{value:gSerRS[i],itemStyle:{color:'#e0191c'}},null],barGap:'-100%'});
 const rows=[[1,gVector[i],gVectorTop[i]],[3,gSerRS[i],gSerRSTop[i]]];
 series.push({type:'custom',xAxisIndex:g,yAxisIndex:g,silent:true,z:5,data:rows,encode:{x:0,y:[1,2]},renderItem(p,api){
  const a=api.coord([api.value(0),api.value(1)]),b=api.coord([api.value(0),api.value(2)]);
  const ch=[{type:'line',shape:{x1:a[0],y1:a[1],x2:b[0],y2:b[1]},style:{stroke:'#111',lineWidth:1.5}},{type:'line',shape:{x1:b[0]-2,y1:b[1],x2:b[0]+2,y2:b[1]},style:{stroke:'#111',lineWidth:1.2}}];
  if(p.dataIndex===1)ch.push({type:'text',x:b[0],y:b[1]-7,style:{text:gStars[i],font:'10px '+FONT,fill:'#111',align:'center',verticalAlign:'middle'}});
  return{type:'group',children:ch};}});
 T(gTx[i],gTy[i],name,{size:11.6});
 T(gNx[i],second?600:504,'mRNA level',{rot:90,size:12.3});
});

// ---------- h ----------
const hX0=[315,439.3,559.3,685,314,438.3,558.7,684.7],hX1=[390,516.7,641.7,767,395,516.7,640,765],hYt=[683,683,680.7,681,825.7,828.3,831.7,830],hYb=[786,786,786,787.3,935,934.3,934.3,935];
const hXr=[[-4.8,4.6],[-5.08,4.6],[-5.08,5.1],[-5.04,5.2],[-5.04,4.7],[-5.05,4.5],[-5,5.1],[-5,10]];
const hYr=[[-4,6],[-3,6],[-5,5.05],[-4,5.04],[-4,4],[-4,5],[-4,5.1],[-2,7.1]];
const hXt=[[-4,-2,0,2,4],[-4,-2,0,2,4],[-4,-2,0,2,4],[-4,-2,0,2,4],[-4,-2,0,2,4],[-4,-2,0,2,4],[-4,-2,0,2,4],[-5,0,5,10]];
const hYtk=[[-4,-2,0,2,4,6],[-2,0,2,4,6],[-4,-2,0,2,4],[-4,-2,0,2,4],[-4,-2,0,2,4],[-4,-2,0,2,4],[-4,-2,0,2,4],[-2,0,2,4,6]];
const hCore=[coreACLY,coreACSS1,coreACSS2,coreACACA,coreACACB,coreACAT2,coreHMGCS1,coreHMGCR];
const hDots=[dotsACLY,dotsACSS1,dotsACSS2,dotsACACA,dotsACACB,dotsACAT2,dotsHMGCS1,dotsHMGCR];
const hFit=[fitACLY,fitACSS1,fitACSS2,fitACACA,fitACACB,fitACAT2,fitHMGCS1,fitHMGCR];
const hCi=[ciACLY,ciACSS1,ciACSS2,ciACACA,ciACACB,ciACAT2,ciHMGCS1,ciHMGCR];
const hNoteC=[382,503,633,755,389,507,626,754],hNoteR=[404.3,526,655.7,777,411.7,530,648.7,774],hNoteY=[684,683,680,681.5,826,828.5,828.5,828.5];
const hNameX=[294,421.7,540,665.7,294,419,540,665.7],hNameY=[733,729,730,731,877,878,878,878],hSerX=[353.3,480,600,725,356.7,479,599,725],hSerY=[807,807,807,807,957,957,957,957];
hGenes.forEach((name,i)=>{
 const g=addGrid(hX0[i],hYt[i],hX1[i],hYb[i],
  axisBase({type:'value',min:hXr[i][0],max:hXr[i][1],axisLabel:{customValues:hXt[i],fontFamily:FONT,fontSize:11.5,color:INK,margin:4},axisTick:{show:true,length:3,customValues:hXt[i],lineStyle:{color:'#111',width:1.2}}}),
  axisBase({type:'value',min:hYr[i][0],max:hYr[i][1],axisLabel:{customValues:hYtk[i],fontFamily:FONT,fontSize:11.5,color:INK,margin:4},axisTick:{show:true,length:3,customValues:hYtk[i],lineStyle:{color:'#111',width:1.2}}}));
 const S={type:'scatter',xAxisIndex:g,yAxisIndex:g,silent:true,large:false};
 series.push(Object.assign({},S,{data:hCore[i],symbolSize:11,itemStyle:{color:'#4a74be',opacity:1}}));
 series.push(Object.assign({},S,{data:hDots[i],symbolSize:3.6,itemStyle:{color:'#3f6cbc',borderColor:'#8fb0e2',borderWidth:.4}}));
 const ci=hCi[i];
 series.push({type:'custom',xAxisIndex:g,yAxisIndex:g,silent:true,z:6,data:ci,encode:{x:0,y:[1,2]},renderItem(p,api){
  const k=p.dataIndex;if(k>=ci.length-1)return null;
  const a=api.coord([ci[k][0],ci[k][1]]),b=api.coord([ci[k+1][0],ci[k+1][1]]),c=api.coord([ci[k+1][0],ci[k+1][2]]),d=api.coord([ci[k][0],ci[k][2]]);
  return{type:'polygon',shape:{points:[a,b,c,d]},style:{fill:'rgba(250,110,120,.45)'}};}});
 ['1','2'].forEach(side=>series.push({type:'line',xAxisIndex:g,yAxisIndex:g,silent:true,z:7,symbol:'none',data:ci.map(r=>[r[0],r[+side]]),lineStyle:{color:'#f0707a',width:.8,type:'dashed'}}));
 series.push({type:'line',xAxisIndex:g,yAxisIndex:g,silent:true,z:8,symbol:'none',data:hFit[i],lineStyle:{color:'#ee1c25',width:2}});
 T(hNoteC[i],hNoteY[i],'spearman',{size:8.6,color:'#333'});
 T(hNoteR[i],hNoteY[i]+11,hR[i],{size:8.6,color:'#333',align:'right'});
 T(hNoteR[i],hNoteY[i]+22,hP[i],{size:8.6,color:'#333',align:'right'});
 T(hNoteR[i],hNoteY[i]+33,hN[i],{size:8.6,color:'#333',align:'right'});
 T(hNameX[i],hNameY[i],name,{rot:90,size:12.3});
 T(hSerX[i],hSerY[i],'SerRS',{size:12.3});
});

// ---------- i ----------
const gi=addGrid(62.3,836,228,933.3,axisBase({type:'category',data:iCats,axisTick:HIDE,axisLabel:{interval:0,rotate:45,margin:6,fontFamily:FONT,fontSize:11.5,color:INK}}),
 axisBase({type:'value',min:0,max:2,interval:.5,axisLabel:{formatter:v=>v.toFixed(1),fontFamily:FONT,fontSize:11.5,color:INK,margin:4}}));
const iSer=[['Vec',iVec,iVecErr,'#fff'],['WT',iWT,iWTErr,GREY],['KR',iKR,iKRErr,RED],['KQ',iKQ,iKQErr,'#1f4e9f']];
iSer.forEach(s=>series.push({name:s[0],type:'bar',xAxisIndex:gi,yAxisIndex:gi,barWidth:6.6,barGap:'0%',silent:true,data:s[1],itemStyle:{color:s[3],borderColor:s[0]==='Vec'?'#111':s[3],borderWidth:s[0]==='Vec'?1.3:0}}));
const iErrRows=[];iSer.forEach((s,b)=>s[1].forEach((v,c)=>iErrRows.push([c,v,v+s[2][c],b])));
series.push({type:'custom',xAxisIndex:gi,yAxisIndex:gi,silent:true,z:5,data:iErrRows,encode:{x:0,y:[1,2]},renderItem(p,api){
 const off=(api.value(3)-1.5)*6.6,a=api.coord([api.value(0),api.value(1)]),b=api.coord([api.value(0),api.value(2)]),x=a[0]+off;
 return{type:'group',children:[{type:'line',shape:{x1:x,y1:a[1],x2:x,y2:b[1]},style:{stroke:'#111',lineWidth:1.2}},{type:'line',shape:{x1:x-1.6,y1:b[1],x2:x+1.6,y2:b[1]},style:{stroke:'#111',lineWidth:1}}]};}});
series.push({type:'custom',xAxisIndex:gi,yAxisIndex:gi,silent:true,z:6,clip:false,data:iBrackets,encode:{x:0,y:[3,4,5]},renderItem(p,api){
 const c=api.value(0),xA=api.coord([c,0])[0]+(api.value(1)-1.5)*6.6-1,xB=api.coord([c,0])[0]+(api.value(2)-1.5)*6.6+.5;
 const yT=api.coord([c,api.value(3)])[1],yA=api.coord([c,api.value(4)])[1],yB=api.coord([c,api.value(5)])[1];
 return{type:'group',children:[{type:'polyline',shape:{points:[[xA,yA],[xA,yT],[xB,yT],[xB,yB]]},style:{stroke:'#222',lineWidth:1.1,fill:null}},{type:'text',x:(xA+xB)/2,y:yT-2.5,style:{text:iBracketStars[p.dataIndex],font:'10px '+FONT,fill:'#222',align:'center',verticalAlign:'middle'}}]};}});
T(30,887,'Relative mRNA levels',{rot:90,size:11.7});

// ---------- render ----------
const chart=echarts.init(document.getElementById('c'),null,{renderer:'canvas',width:778,height:973});
chart.setOption({animation:false,backgroundColor:'#fff',textStyle:{fontFamily:FONT},
 grid:grids,xAxis:xAxes,yAxis:yAxes,series,graphic:{elements:graphic},
 visualMap:{type:'continuous',show:false,min:-3,max:3,dimension:2,seriesIndex:heatIdx,inRange:{color:['#2b1a86','#5b54a8','#c3c0e2','#f3eef5','#f5bfd0','#ef5a66','#c8102e']}},
 legend:{data:['Vec','WT','KR','KQ'],orient:'vertical',left:226,top:834,itemWidth:10.5,itemHeight:5.5,itemGap:0,icon:'rect',selectedMode:false,textStyle:{fontFamily:FONT,fontSize:12.5,color:INK,padding:[0,0,0,0]},padding:0}
});
</script></body></html>
